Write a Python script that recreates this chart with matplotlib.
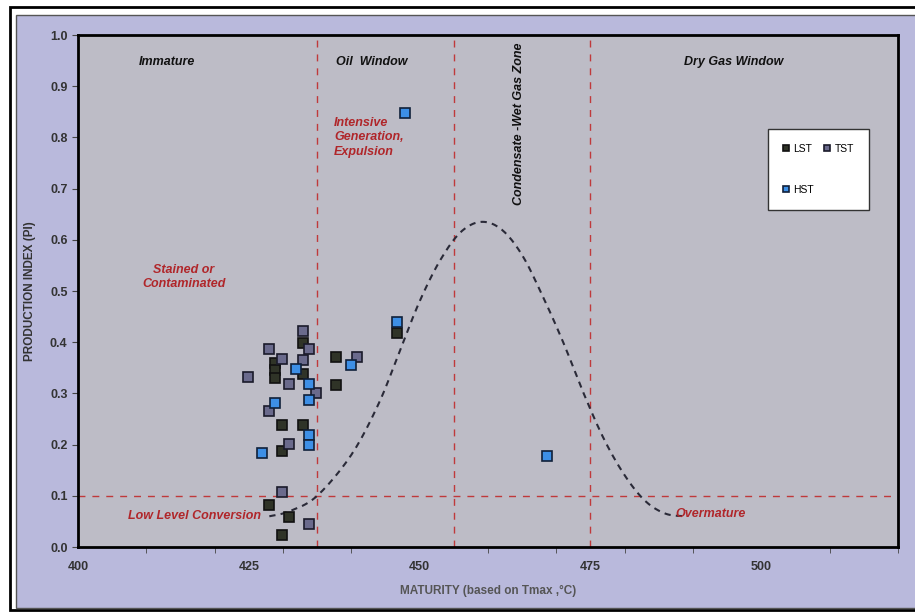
import matplotlib
matplotlib.use("Agg")
import matplotlib.pyplot as plt
import numpy as np
from matplotlib.patches import Rectangle

plt.rcParams["font.family"] = ["Liberation Sans", "DejaVu Sans"]

# ---- data ----
lst_x = [432.9, 428.8, 428.8, 428.8, 432.9, 437.8, 437.8, 429.9, 432.9, 429.9, 427.9, 430.9, 429.9, 446.7]
lst_y = [0.398, 0.359, 0.346, 0.331, 0.338, 0.372, 0.316, 0.238, 0.238, 0.1875, 0.082, 0.059, 0.023, 0.417]

tst_x = [432.9, 433.8, 427.9, 429.9, 432.9, 424.9, 430.9, 434.9, 427.9, 440.8, 430.9, 429.9, 433.8]
tst_y = [0.422, 0.386, 0.386, 0.367, 0.366, 0.333, 0.318, 0.301, 0.266, 0.371, 0.201, 0.108, 0.045]

hst_x = [431.9, 433.8, 433.8, 428.8, 439.9, 433.8, 433.8, 426.9, 446.7, 468.7, 447.8]
hst_y = [0.348, 0.318, 0.287, 0.282, 0.355, 0.219, 0.199, 0.183, 0.440, 0.178, 0.848]

# schematic maturation curve
curve_x = [428, 431, 435, 440, 444, 447, 450, 453, 456, 459, 462, 465, 468, 471, 474, 477, 480, 483, 486, 489]
curve_y = [0.06, 0.07, 0.10, 0.18, 0.28, 0.38, 0.48, 0.56, 0.615, 0.635, 0.62, 0.57, 0.49, 0.40, 0.30, 0.21, 0.14, 0.09, 0.065, 0.06]

zone_bounds = [435, 455, 475]
pi_threshold = 0.1

x_labels = [400, 425, 450, 475, 500]
y_ticks = [0.0, 0.1, 0.2, 0.3, 0.4, 0.5, 0.6, 0.7, 0.8, 0.9, 1.0]


def catmull_rom(xs, ys, n=12):
    P = np.column_stack([xs, ys])
    P = np.vstack([P[0], P, P[-1]])
    out = []
    for i in range(1, len(P) - 2):
        p0, p1, p2, p3 = P[i - 1], P[i], P[i + 1], P[i + 2]
        for t in np.linspace(0, 1, n, endpoint=False):
            t2, t3 = t * t, t * t * t
            pt = 0.5 * ((2 * p1) + (-p0 + p2) * t + (2 * p0 - 5 * p1 + 4 * p2 - p3) * t2
                        + (-p0 + 3 * p1 - 3 * p2 + p3) * t3)
            out.append(pt)
    out.append(P[-2])
    out = np.array(out)
    return out[:, 0], out[:, 1]


# ---- figure ----
fig = plt.figure(figsize=(9.15, 6.14), dpi=100)
fig.patch.set_facecolor("white")
W, H = 915, 614
fig.add_artist(Rectangle((10 / W, 1 - 610 / H), 1.2, (610 - 7) / H, transform=fig.transFigure,
                         facecolor="white", edgecolor="black", lw=2.0, zorder=-9))
fig.add_artist(Rectangle((16 / W, 1 - 608 / H), 1.2, (608 - 15) / H, transform=fig.transFigure,
                         facecolor="#b9b9dc", edgecolor="#555555", lw=1.0, zorder=-8))

ax = fig.add_axes([78 / W, 1 - 547 / H, (898 - 78) / W, (547 - 35) / H])
ax.set_facecolor("#bdbcc6")
ax.set_xlim(400, 520)
ax.set_ylim(0, 1.0)

for s in ax.spines.values():
    s.set_linewidth(2.0)
    s.set_color("black")

ax.set_xticks(x_labels)
ax.set_xticks(np.arange(400, 521, 10), minor=True)
ax.tick_params(axis="x", which="major", length=0, pad=10, labelsize=9)
ax.tick_params(axis="x", which="minor", length=4, direction="out", color="#444444")
ax.set_yticks(y_ticks)
ax.set_yticklabels([f"{v:.1f}" for v in y_ticks])
ax.tick_params(axis="y", length=4, direction="out", labelsize=9, color="#444444")
for lab in ax.get_xticklabels() + ax.get_yticklabels():
    lab.set_fontweight("bold")
    lab.set_color("#333333")

ax.set_xlabel("MATURITY (based on Tmax ,°C)", fontsize=8.5, fontweight="bold",
              color="#555555", labelpad=9)
ax.set_ylabel("PRODUCTION INDEX (PI)", fontsize=8.5, fontweight="bold",
              color="#333333", labelpad=10)

# zone lines
red = "#c0393b"
for b in zone_bounds:
    ax.axvline(b, color=red, lw=1.0, ls=(0, (5, 5)), zorder=1)
ax.axhline(pi_threshold, color=red, lw=1.0, ls=(0, (5, 5)), zorder=1)

# curve
cx, cy = catmull_rom(curve_x, curve_y)
ax.plot(cx, cy, color="#2a2a38", lw=1.5, ls=(0, (3, 2.5)), zorder=2)

# points
ms = 6.5
h_lst, = ax.plot(lst_x, lst_y, ls="none", marker="s", ms=ms, mfc="#2f3327", mec="#111111", mew=1.2,
                 zorder=3, label="LST")
h_tst, = ax.plot(tst_x, tst_y, ls="none", marker="s", ms=ms, mfc="#6a6a8c", mec="#1a1a2a", mew=1.2,
                 zorder=3, label="TST")
h_hst, = ax.plot(hst_x, hst_y, ls="none", marker="s", ms=ms, mfc="#3d8fe6", mec="#10203a", mew=1.2,
                 zorder=3, label="HST")

# zone labels
kw = dict(fontsize=9, fontweight="bold", fontstyle="italic", color="#111111")
ax.text(413, 0.948, "Immature", ha="center", va="center", **kw)
ax.text(443, 0.948, "Oil  Window", ha="center", va="center", **kw)
ax.text(496, 0.948, "Dry Gas Window", ha="center", va="center", **kw)
ax.text(464.5, 0.985, "Condensate -Wet Gas Zone", ha="center", va="top", rotation=90, **kw)

rkw = dict(fontsize=9, fontweight="bold", fontstyle="italic", color="#b0262a")
ax.text(437.5, 0.80, "Intensive\nGeneration,\nExpulsion", ha="left", va="center",
        linespacing=1.25, **rkw)
ax.text(415.5, 0.528, "Stained or\nContaminated", ha="center", va="center",
        linespacing=1.25, **rkw)
ax.text(417, 0.06, "Low Level Conversion", ha="center", va="center", **rkw)
ax.text(492.5, 0.065, "Overmature", ha="center", va="center", **rkw)

# legend
leg = ax.legend([h_lst, h_hst, h_tst], ["LST", "HST", "TST"],
                loc="upper left", bbox_to_anchor=((763 - 78) / (898 - 78), 1 - (124 - 35) / (547 - 35)),
                ncol=2, fontsize=7.5, frameon=True, fancybox=False, edgecolor="#333333",
                facecolor="white", framealpha=1.0, handlelength=0.6, handletextpad=0.4,
                columnspacing=1.0, labelspacing=3.0, borderpad=1.4, markerscale=0.6)
leg.get_frame().set_linewidth(1.0)

fig.savefig("out.png", dpi=100)
